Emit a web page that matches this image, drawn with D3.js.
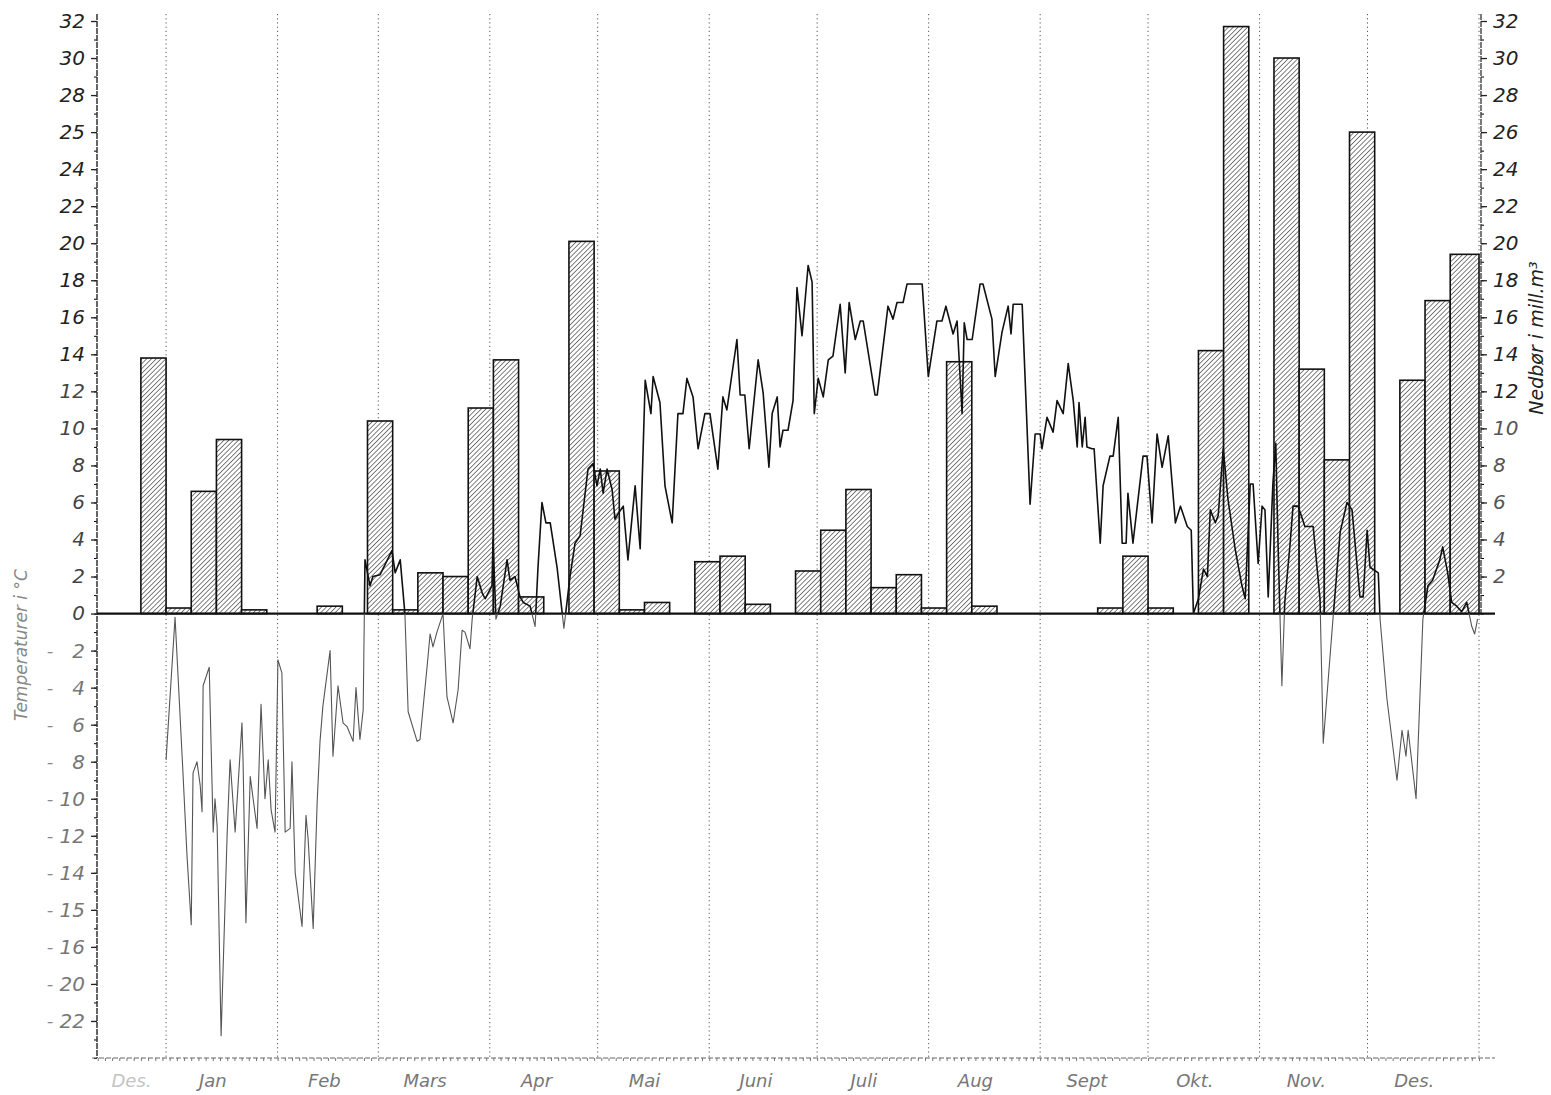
<!DOCTYPE html>
<html>
<head>
<meta charset="utf-8">
<script src="https://cdn.jsdelivr.net/npm/d3@7/dist/d3.min.js"></script>
<style>
  html,body{margin:0;padding:0;background:#fff;}
  svg{display:block;}
  text{font-family:"DejaVu Sans","Liberation Sans",sans-serif;font-style:italic;}
</style>
</head>
<body>
<div id="chart"></div>
<script>
// ---------------- DATA ----------------
// weekly precipitation (mill. m3), first bin = last week of previous December
const precipWeekly = [13.8, 0.3, 6.6, 9.4, 0.2, 0, 0, 0.4, 0, 10.4, 0.2, 2.2, 2.0, 11.1, 13.7, 0.9, 0,
  20.1, 7.7, 0.2, 0.6, 0, 2.8, 3.1, 0.5, 0, 2.3, 4.5, 6.7, 1.4, 2.1, 0.3, 13.6, 0.4, 0, 0, 0, 0,
  0.3, 3.1, 0.3, 0, 14.2, 31.7, 0, 30.0, 13.2, 8.3, 26.0, 0, 12.6, 16.9, 19.4];

// temperature readings: [day of year, °C]
const tempPoints = [
 [0,-7.9],[2.5,-0.2],[4.7,-8.6],[5.8,-13],[7.0,-16.8],[7.5,-8.6],[8.6,-8.0],[9.5,-9.3],[10.0,-10.7],[10.3,-3.9],
 [12.0,-2.9],[13.1,-11.8],[13.6,-10.0],[14.2,-11.5],[15.3,-22.8],[17.0,-11.8],[17.8,-7.9],[19.2,-11.8],[21.1,-5.9],[21.4,-7.9],
 [22.2,-16.7],[23.4,-8.8],[24.2,-10.0],[25.3,-11.6],[26.4,-4.9],[27.5,-10.0],[28.4,-7.9],[29.2,-10.6],[30.3,-11.8],[31.1,-2.5],
 [32.2,-3.2],[33.1,-11.8],[34.5,-11.6],[35.0,-8.0],[35.9,-14.0],[37.8,-16.9],[38.9,-10.9],[39.5,-12.2],[40.9,-17.0],[42.0,-10.2],
 [42.8,-6.9],[43.6,-5.0],[45.6,-2.0],[46.4,-7.7],[47.8,-3.9],[49.2,-5.9],[50.3,-6.1],[52.0,-6.9],[52.8,-4.0],[53.9,-6.8],
 [54.8,-5.2],[55.3,2.9],[56.7,1.5],[57.5,2.0],[59.5,2.1],[62.8,3.4],[63.7,2.2],[65.1,2.9],[66.4,0.0],[67.3,-5.3],
 [69.8,-6.9],[70.6,-6.8],[72.6,-2.8],[73.4,-1.1],[74.2,-1.8],[75.3,-1.0],[77.0,0.0],[78.1,-4.5],[79.8,-5.9],[81.2,-4.1],
 [82.3,-0.9],[83.1,-1.0],[84.5,-1.9],[85.1,-0.3],[86.5,2.0],[87.9,1.1],[88.7,0.8],[90.6,1.5],[90.9,4.0],[91.7,-0.3],
 [92.9,0.4],[94.8,2.9],[95.6,1.8],[97.0,2.0],[98.4,0.9],[99.3,0.6],[101.2,0.4],[102.6,-0.7],[103.4,2.5],[104.5,6.0],
 [105.6,4.9],[106.8,4.9],[108.7,2.5],[110.6,-0.8],[112.3,2.0],[113.7,3.8],[115.1,4.2],[117.3,7.8],[118.7,8.1],[119.8,6.9],
 [120.7,7.8],[121.5,6.5],[122.6,7.8],[124.0,6.7],[124.8,5.1],[125.7,5.4],[127.1,5.8],[128.4,2.9],[130.4,6.9],[131.8,3.5],
 [133.2,12.6],[134.8,10.8],[135.4,12.8],[137.3,11.4],[138.7,6.9],[140.7,4.9],[142.3,10.8],[143.7,10.8],[144.8,12.7],[146.5,11.7],
 [147.9,8.9],[149.8,10.8],[151.2,10.8],[153.4,7.8],[154.8,11.7],[155.9,11.0],[158.7,14.8],[159.6,11.8],[160.9,11.8],[162.1,8.9],
 [164.6,13.7],[166.0,11.9],[167.6,7.9],[168.5,10.8],[169.9,11.7],[170.7,9.0],[171.5,9.9],[172.9,9.9],[174.3,11.5],[175.4,17.6],
 [176.8,15.0],[178.5,18.8],[179.6,17.9],[180.2,10.8],[181.3,12.7],[182.7,11.7],[184.1,13.7],[185.4,13.9],[187.4,16.7],[188.8,13.0],
 [189.9,16.8],[191.6,14.8],[193.0,15.8],[193.8,15.8],[197.1,11.8],[197.7,11.8],[200.7,16.6],[202.1,15.9],[203.2,16.8],[204.9,16.8],
 [206.0,17.8],[210.2,17.8],[211.9,12.8],[214.3,15.8],[215.7,15.8],[216.8,16.6],[218.8,15.1],[219.9,15.8],[221.3,10.8],[221.9,15.7],
 [222.7,14.8],[224.1,14.8],[226.3,17.8],[227.1,17.8],[229.6,15.9],[230.5,12.8],[232.4,15.2],[234.1,16.6],[234.9,15.1],[235.5,16.7],
 [238.0,16.7],[240.2,5.9],[241.6,9.7],[243.0,9.7],[243.5,8.9],[244.9,10.6],[246.6,9.8],[247.7,11.5],[249.4,10.8],[250.8,13.5],
 [252.2,11.5],[253.3,9.0],[253.8,11.4],[254.7,9.0],[255.5,10.6],[256.0,9.0],[257.4,8.9],[258.0,8.9],[259.7,3.8],[260.5,6.9],
 [262.4,8.5],[263.3,8.5],[264.7,10.6],[265.8,3.8],[266.9,3.8],[267.4,6.5],[268.8,3.8],[271.6,8.5],[272.7,8.5],[274.1,4.9],
 [275.5,9.7],[276.9,7.9],[278.6,9.6],[280.6,4.9],[282.0,5.8],[283.9,4.7],[285.0,4.5],[285.6,0.0],[287.0,0.8],[288.4,2.4],
 [289.5,2.0],[290.3,5.6],[291.7,4.9],[292.5,5.3],[293.9,8.9],[295.2,6.2],[297.2,3.5],[299.1,1.5],[300.0,0.8],[301.4,7.0],
 [302.2,7.0],[303.6,2.7],[304.7,5.8],[305.5,5.6],[306.4,0.9],[307.7,7.0],[308.5,9.2],[309.1,4.0],[310.2,-3.9],[311.0,0.6],
 [312.5,3.8],[313.3,5.8],[314.7,5.8],[316.6,4.7],[318.9,4.7],[320.8,0.8],[321.7,-7.0],[324.4,-0.3],[326.4,4.4],[328.3,6.0],
 [329.7,5.6],[331.9,0.9],[332.8,0.9],[333.9,4.5],[334.7,2.5],[337.0,2.2],[337.5,-0.3],[339.4,-4.6],[342.2,-9.0],[343.6,-6.3],
 [344.7,-7.7],[345.3,-6.3],[347.5,-10.0],[349.4,-0.3],[350.8,1.5],[352.1,1.8],[354.1,2.9],[354.9,3.6],[356.3,2.2],[357.4,0.6],
 [358.8,0.4],[360.2,0.1],[361.6,0.6],[363.0,-0.7],[363.8,-1.1],[364.6,-0.3]
];

const monthNames = ["Des.","Jan","Feb","Mars","Apr","Mai","Juni","Juli","Aug","Sept","Okt.","Nov.","Des."];
const monthStartDays = [0,31,59,90,120,151,181,212,243,273,304,334,365];

const leftTickValues = [32,30,28,26,24,22,20,18,16,14,12,10,8,6,4,2,0,-2,-4,-6,-8,-10,-12,-14,-16,-18,-20,-22];
const leftTickLabels = ["32","30","28","25","24","22","20","18","16","14","12","10","8","6","4","2","0",
  "2","4","6","8","10","12","14","15","16","20","22"];
const rightTickValues = [2,4,6,8,10,12,14,16,18,20,22,24,26,28,30,32];

const leftTitle = "Temperaturer i °C";
const rightTitle = "Nedbør i mill.m³";

// ---------------- CHART ----------------
const W = 1551, H = 1095;
const svg = d3.select("#chart").append("svg").attr("width", W).attr("height", H);

const x = d3.scaleLinear().domain([-19.2, 365]).range([97, 1479]);
const y = d3.scaleLinear().domain([-24, 32]).range([1058, 21]);
const yP = d3.scaleLinear().domain([-24, 32]).range([1058, 21]); // precipitation shares the grid

const defs = svg.append("defs");
const pat = defs.append("pattern").attr("id","hatch").attr("patternUnits","userSpaceOnUse")
  .attr("width",3.4).attr("height",3.4).attr("patternTransform","rotate(45)");
pat.append("rect").attr("width",3.4).attr("height",3.4).attr("fill","#fff");
pat.append("line").attr("x1",0).attr("y1",0).attr("x2",0).attr("y2",3.4)
  .attr("stroke","#2a2a2a").attr("stroke-width",1.2);

defs.append("clipPath").attr("id","clipPos").append("rect")
  .attr("x",0).attr("y",0).attr("width",W).attr("height",y(0));
defs.append("clipPath").attr("id","clipNeg").append("rect")
  .attr("x",0).attr("y",y(0)).attr("width",W).attr("height",H-y(0));

const x0 = x.range()[0], x1 = x.range()[1];

// month separators
svg.append("g").selectAll("line").data(monthStartDays).join("line")
  .attr("x1", d => x(d)).attr("x2", d => x(d))
  .attr("y1", 14).attr("y2", y(-24))
  .attr("stroke", "#555").attr("stroke-width", 1).attr("stroke-dasharray", "1.2,3");

// bars
const bins = precipWeekly.map((v,i) => {
  const s = -7 + 7*i;
  return {v, s, e: (i === precipWeekly.length-1) ? 365 : s + 7};
}).filter(b => b.v > 0);
svg.append("g").selectAll("rect").data(bins).join("rect")
  .attr("x", b => x(b.s)).attr("width", b => x(b.e) - x(b.s))
  .attr("y", b => yP(b.v)).attr("height", b => yP(0) - yP(b.v))
  .attr("fill", "url(#hatch)").attr("stroke", "#111").attr("stroke-width", 1.6);

// axes
const leftAxis = svg.append("g").attr("transform", `translate(${x0},0)`);
leftAxis.call(d3.axisLeft(y).tickValues(d3.range(-24, 32.01, 1)).tickSize(3).tickFormat(""));
leftAxis.call(g => g.select(".domain").remove());
const leftMajor = svg.append("g").attr("transform", `translate(${x0},0)`)
  .call(d3.axisLeft(y).tickValues(leftTickValues).tickSize(6).tickPadding(6)
    .tickFormat((d,i) => leftTickLabels[i]));
leftMajor.select(".domain").remove();
leftMajor.selectAll("line").attr("stroke","#222").attr("stroke-width",1.3);
leftMajor.selectAll("text").attr("font-size", 20)
  .attr("fill", d => d >= 14 ? "#222" : (d >= 0 ? "#444" : "#777"));
leftMajor.selectAll(".tick").filter(d => d < 0).append("text")
  .attr("x", 50 - x0).attr("dy","0.32em").attr("font-size",18).attr("fill","#888")
  .attr("text-anchor","middle").text("-");
svg.append("line").attr("x1",x0).attr("x2",x0).attr("y1",14).attr("y2",y(-24))
  .attr("stroke","#333").attr("stroke-width",1.5).attr("stroke-dasharray","6,1");

const rightAxis = svg.append("g").attr("transform", `translate(${x1+2},0)`);
rightAxis.call(d3.axisRight(yP).tickValues(d3.range(0, 32.01, 1)).tickSize(3).tickFormat(""));
rightAxis.select(".domain").remove();
const rightMajor = svg.append("g").attr("transform", `translate(${x1+2},0)`)
  .call(d3.axisRight(yP).tickValues(rightTickValues).tickSize(6).tickPadding(6).tickFormat(d3.format("d")));
rightMajor.select(".domain").remove();
rightMajor.selectAll("line").attr("stroke","#222").attr("stroke-width",1.3);
rightMajor.selectAll("text").attr("font-size", 20)
  .attr("fill", d => d >= 12 ? "#222" : "#555");
svg.append("line").attr("x1",x1+2).attr("x2",x1+2).attr("y1",14).attr("y2",y(0))
  .attr("stroke","#333").attr("stroke-width",1.3).attr("stroke-dasharray","6,1");

// bottom axis
const bottom = svg.append("g").attr("transform", `translate(0,${y(-24)})`);
bottom.call(d3.axisBottom(x).tickValues(d3.range(-19, 366, 2)).tickSize(3).tickFormat(""));
bottom.select(".domain").remove();
bottom.selectAll("line").attr("stroke","#777");
svg.append("line").attr("x1", x0-5).attr("x2", x1+16).attr("y1", y(-24)).attr("y2", y(-24))
  .attr("stroke","#666").attr("stroke-width",1.2).attr("stroke-dasharray","5,2");

// month labels
const labelDays = monthNames.map((m,i) => i === 0 ? x.domain()[0] / 2 : monthStartDays[i-1] + 13);
svg.append("g").selectAll("text").data(monthNames).join("text")
  .attr("x", (d,i) => x(labelDays[i])).attr("y", 1087)
  .attr("text-anchor","middle").attr("font-size", 18)
  .attr("fill", (d,i) => i === 0 ? "#c4c4c4" : "#777")
  .text(d => d);

// zero line
svg.append("line").attr("x1", x0).attr("x2", x1+16).attr("y1", y(0)).attr("y2", y(0))
  .attr("stroke","#111").attr("stroke-width",2.2);

// temperature line
const line = d3.line().x(d => x(d[0])).y(d => y(d[1]));
svg.append("path").datum(tempPoints).attr("d", line)
  .attr("fill","none").attr("stroke","#111").attr("stroke-width",1.6)
  .attr("stroke-linejoin","round").attr("clip-path","url(#clipPos)");
svg.append("path").datum(tempPoints).attr("d", line)
  .attr("fill","none").attr("stroke","#555").attr("stroke-width",1.1)
  .attr("stroke-linejoin","round").attr("clip-path","url(#clipNeg)");

// axis titles
svg.append("text").attr("transform", `translate(27,${645}) rotate(-90)`)
  .attr("text-anchor","middle").attr("font-size",17).attr("fill","#888").text(leftTitle);
svg.append("text").attr("transform", `translate(1543,${338}) rotate(-90)`)
  .attr("text-anchor","middle").attr("font-size",19).attr("fill","#222").text(rightTitle);
</script>
</body>
</html>
